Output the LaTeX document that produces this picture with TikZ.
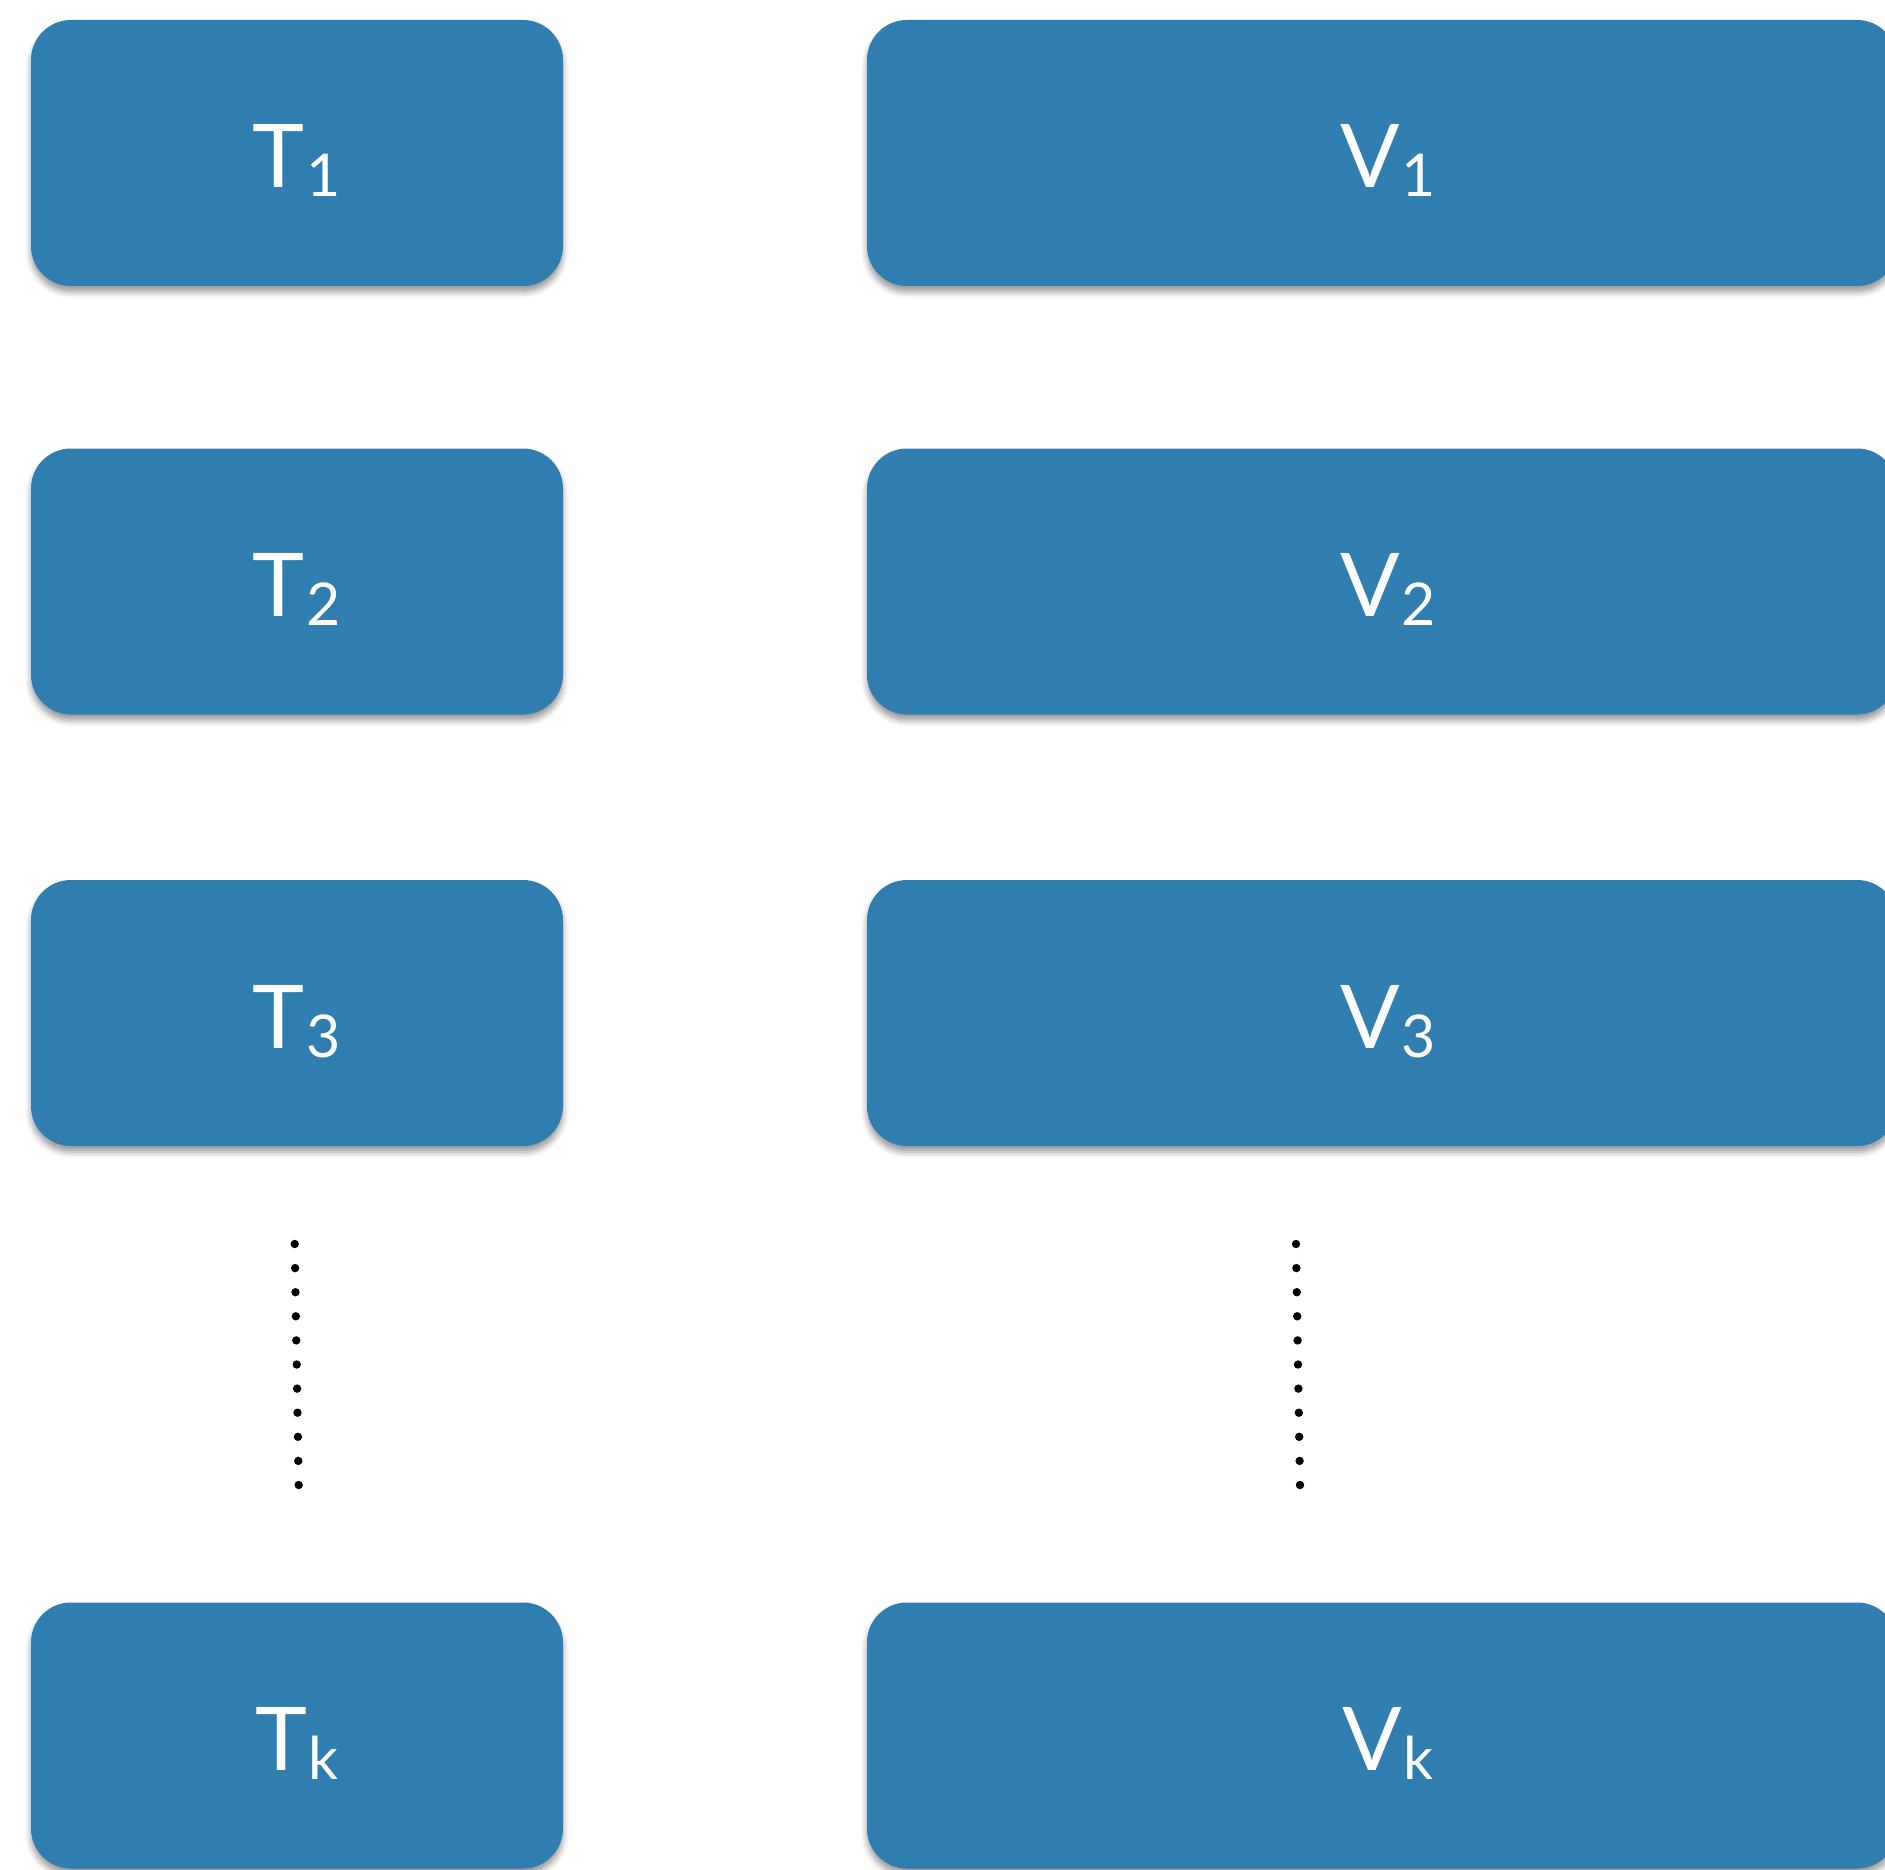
\documentclass[tikz,border=0pt]{standalone}
\usepackage{fontspec}
\setmainfont{Lato}
\usetikzlibrary{shadows.blur}
\definecolor{boxblue}{RGB}{47,126,175}
\tikzset{
  card/.style={draw=none, fill=boxblue, rounded corners=40pt, inner sep=0pt,
    minimum height=266pt,
    blur shadow={shadow xshift=0pt, shadow yshift=-6pt, shadow blur radius=6pt, shadow opacity=40}},
  leftcard/.style={card, minimum width=532pt},
  rightcard/.style={card, minimum width=1030pt},
  lbl/.style={anchor=base, inner sep=0pt, text=white, font=\fontsize{88}{88}\selectfont},
  vdot/.style={fill=black, draw=none}
}
\newcommand{\subl}[1]{\kern2pt\raisebox{-9pt}{\fontsize{59}{59}\selectfont #1}}
\begin{document}
\begin{tikzpicture}[x=1pt, y=-1pt]
\useasboundingbox (0,0) rectangle (1885,1870);
% left column
\node[leftcard] (t1) at (297,153) {};
\node[leftcard] (t2) at (297,581.5) {};
\node[leftcard] (t3) at (297,1013) {};
\node[leftcard] (tk) at (297,1735.5) {};
% right column
\node[rightcard] (v1) at (1382,153) {};
\node[rightcard] (v2) at (1382,581.5) {};
\node[rightcard] (v3) at (1382,1013) {};
\node[rightcard] (vk) at (1382,1735.5) {};
% labels
\node[lbl] (lt1) at (297,188) {T\subl{1}};
\node[lbl] (lt2) at (297,616.5) {T\subl{2}};
\node[lbl] (lt3) at (297,1048) {T\subl{3}};
\node[lbl] (ltk) at (297,1770.5) {T\subl{k}};
\node[lbl] (lv1) at (1388,188) {V\subl{1}};
\node[lbl] (lv2) at (1388,616.5) {V\subl{2}};
\node[lbl] (lv3) at (1388,1048) {V\subl{3}};
\node[lbl] (lvk) at (1388,1770.5) {V\subl{k}};
% vertical dots
\foreach \i in {0,...,10} {
  \fill[vdot] ({294.7+0.4*\i},{1244+24.1*\i}) circle (4.2);
  \fill[vdot] ({1296+0.4*\i},{1244+24.1*\i}) circle (4.2);
}
\end{tikzpicture}
\end{document}
